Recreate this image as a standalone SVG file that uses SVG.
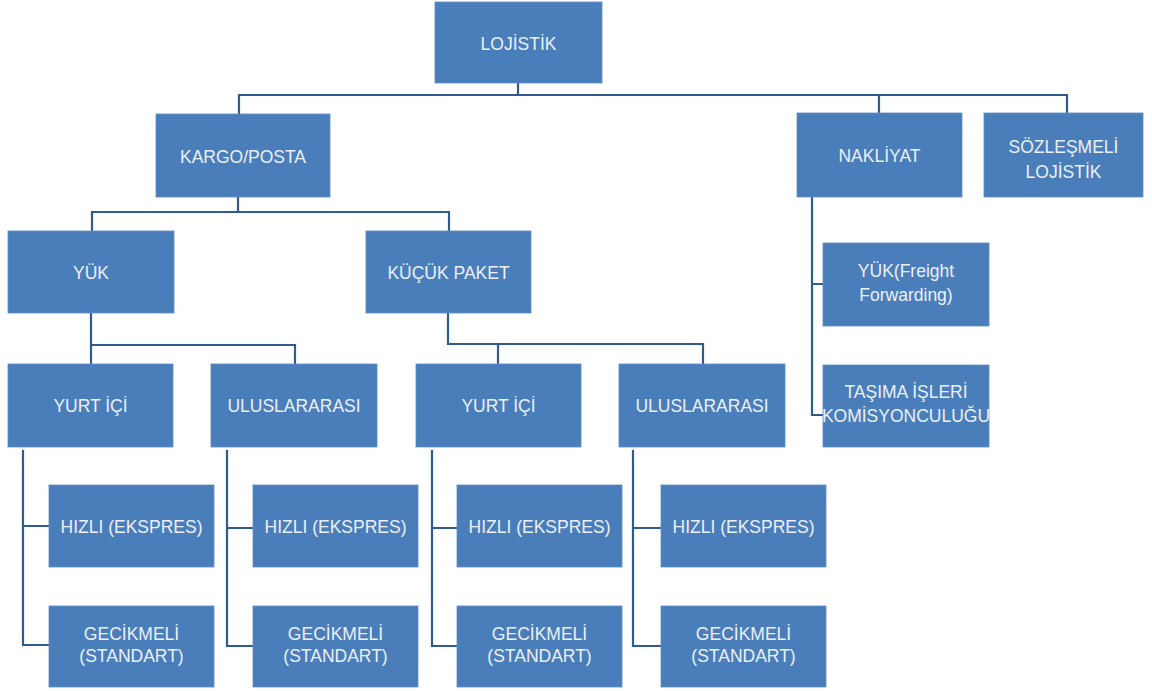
<svg xmlns="http://www.w3.org/2000/svg" width="1152" height="691" viewBox="0 0 1152 691">
<style>
.box{fill:#4a7ebb;stroke:#5a8cc6;stroke-width:0.8}
.t{font-family:"Liberation Sans",Arial,sans-serif;font-size:17.5px;fill:#eaf0f8;text-anchor:middle}
.c{fill:none;stroke:#2f5b8e;stroke-width:2.2}
</style>
<rect width="1152" height="691" fill="#ffffff"/>
<g id="connectors">
<path class="c" d="M518 83V95M239 114V95H1067V113M879 95V113"/>
<path class="c" d="M238 197V212M92 231V212H449V231"/>
<path class="c" d="M91 313V364M91 345H295V364"/>
<path class="c" d="M448 313V344H703V364M498 344V364"/>
<path class="c" d="M812 197V415H823M812 284H823"/>
<path class="c" d="M23 450V645H49M23 526H49"/>
<path class="c" d="M227 450V646H253M227 528H253"/>
<path class="c" d="M432 450V646H457M432 528H457"/>
<path class="c" d="M633 450V646H661M633 528H661"/>
</g>
<g id="n-lojistik"><rect class="box" x="435" y="2" width="167" height="81"/><text class="t" x="518.5" y="50">LOJİSTİK</text></g>
<g id="n-kargo"><rect class="box" x="156" y="114" width="174" height="83"/><text class="t" x="243" y="163">KARGO/POSTA</text></g>
<g id="n-nakliyat"><rect class="box" x="797" y="113" width="165" height="84"/><text class="t" x="879.5" y="162">NAKLİYAT</text></g>
<g id="n-sozlesmeli"><rect class="box" x="984" y="113" width="159" height="84"/><text class="t" x="1063.5" y="153">SÖZLEŞMELİ</text><text class="t" x="1063.5" y="178">LOJİSTİK</text></g>
<g id="n-yuk"><rect class="box" x="8" y="231" width="166" height="82"/><text class="t" x="91" y="279">YÜK</text></g>
<g id="n-kucuk"><rect class="box" x="366" y="231" width="165" height="82"/><text class="t" x="448.5" y="279">KÜÇÜK PAKET</text></g>
<g id="n-freight"><rect class="box" x="823" y="243" width="166" height="83"/><text class="t" x="906" y="277">YÜK(Freight</text><text class="t" x="906" y="301">Forwarding)</text></g>
<g id="n-tasima"><rect class="box" x="823" y="365" width="166" height="82"/><text class="t" x="906" y="398">TAŞIMA İŞLERİ</text><text class="t" x="906" y="422">KOMİSYONCULUĞU</text></g>
<g id="n-yurtici1"><rect class="box" x="8" y="364" width="165" height="83"/><text class="t" x="90.5" y="412">YURT İÇİ</text></g>
<g id="n-ulus1"><rect class="box" x="211" y="364" width="166" height="83"/><text class="t" x="294" y="412">ULUSLARARASI</text></g>
<g id="n-yurtici2"><rect class="box" x="416" y="364" width="165" height="83"/><text class="t" x="498.5" y="412">YURT İÇİ</text></g>
<g id="n-ulus2"><rect class="box" x="619" y="364" width="166" height="83"/><text class="t" x="702" y="412">ULUSLARARASI</text></g>
<g id="n-hizli1"><rect class="box" x="49" y="485" width="165" height="82"/><text class="t" x="131.5" y="533">HIZLI (EKSPRES)</text></g>
<g id="n-hizli2"><rect class="box" x="253" y="485" width="165" height="82"/><text class="t" x="335.5" y="533">HIZLI (EKSPRES)</text></g>
<g id="n-hizli3"><rect class="box" x="457" y="485" width="165" height="82"/><text class="t" x="539.5" y="533">HIZLI (EKSPRES)</text></g>
<g id="n-hizli4"><rect class="box" x="661" y="485" width="165" height="82"/><text class="t" x="743.5" y="533">HIZLI (EKSPRES)</text></g>
<g id="n-gec1"><rect class="box" x="49" y="606" width="165" height="81"/><text class="t" x="131.5" y="640">GECİKMELİ</text><text class="t" x="131.5" y="662">(STANDART)</text></g>
<g id="n-gec2"><rect class="box" x="253" y="606" width="165" height="81"/><text class="t" x="335.5" y="640">GECİKMELİ</text><text class="t" x="335.5" y="662">(STANDART)</text></g>
<g id="n-gec3"><rect class="box" x="457" y="606" width="165" height="81"/><text class="t" x="539.5" y="640">GECİKMELİ</text><text class="t" x="539.5" y="662">(STANDART)</text></g>
<g id="n-gec4"><rect class="box" x="661" y="606" width="165" height="81"/><text class="t" x="743.5" y="640">GECİKMELİ</text><text class="t" x="743.5" y="662">(STANDART)</text></g>
</svg>
